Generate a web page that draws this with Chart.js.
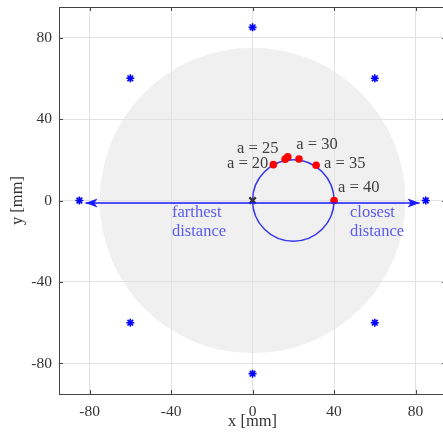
<!DOCTYPE html>
<html>
<head>
<meta charset="utf-8">
<script src="https://cdn.jsdelivr.net/npm/chart.js@4"></script>
<style>
  html, body { margin: 0; padding: 0; background: #fff; overflow: hidden; }
</style>
</head>
<body>
<canvas id="chart" width="453" height="439"></canvas>
<script>
// tick labels
const xTicks = [-80, -40, 0, 40, 80];
const yTicks = [-80, -40, 0, 40, 80];

// sensors (blue stars)
const sensorX = [0, 60, 85, 60, 0, -60, -85, -60];
const sensorY = [85, 60, 0, -60, -85, -60, 0, 60];

// origin (black x)
const originX = [0];
const originY = [0];

// red points on the path circle, with labels
const pointX = [10.2, 16, 17.3, 22.8, 31.2, 40];
const pointY = [17.6, 20.3, 21.4, 20.4, 17.3, 0];
const pointLabels = ['a = 20', '', 'a = 25', 'a = 30', 'a = 35', 'a = 40'];

// arrows: farthest (left) and closest (right)
const arrowX = [-82, 82];
const arrowY = [-1.2, -1.2];

// circles
const pathCenter = [20, 0];
const pathRadius = 20;
const regionRadius = 75;

const serif = '"Liberation Serif", "DejaVu Serif", serif';

// label placement (pixel offsets + alignment) per label index
const labelStyle = [
  { dx: -5, dy: -1, align: 'right' },
  null,
  { dx: -30, dy: -8, align: 'center' },
  { dx: 18, dy: -14, align: 'center' },
  { dx: 8, dy: -2, align: 'left' },
  { dx: 4, dy: -13, align: 'left' }
];

const drawingPlugin = {
  id: 'drawing',
  beforeDraw(chart) {
    const ctx = chart.ctx, xs = chart.scales.x, ys = chart.scales.y;
    const cx = xs.getPixelForValue(0), cy = ys.getPixelForValue(0);
    const r = xs.getPixelForValue(regionRadius) - cx;
    ctx.save();
    ctx.fillStyle = '#f0f0f0';
    ctx.beginPath();
    ctx.arc(cx, cy, r, 0, Math.PI * 2);
    ctx.fill();
    ctx.restore();
  },
  beforeDatasetsDraw(chart) {
    const ctx = chart.ctx, xs = chart.scales.x, ys = chart.scales.y;
    const cx = xs.getPixelForValue(pathCenter[0]), cy = ys.getPixelForValue(pathCenter[1]);
    const r = xs.getPixelForValue(pathCenter[0] + pathRadius) - cx;
    ctx.save();
    ctx.strokeStyle = '#3535ee';
    ctx.lineWidth = 1.5;
    ctx.beginPath();
    ctx.arc(cx, cy, r, 0, Math.PI * 2);
    ctx.stroke();

    // arrowheads
    ctx.fillStyle = '#1a1aff';
    const ay = ys.getPixelForValue(arrowY[0]);
    arrowX.forEach((v, i) => {
      const px = xs.getPixelForValue(v);
      const dir = v < 0 ? -1 : 1;
      ctx.beginPath();
      ctx.moveTo(px, ay);
      ctx.lineTo(px - dir * 12, ay - 4.5);
      ctx.lineTo(px - dir * 9, ay);
      ctx.lineTo(px - dir * 12, ay + 4.5);
      ctx.closePath();
      ctx.fill();
    });
    ctx.restore();
  },
  afterDatasetsDraw(chart) {
    const ctx = chart.ctx, xs = chart.scales.x, ys = chart.scales.y;
    ctx.save();
    ctx.font = '16.5px ' + serif;
    ctx.fillStyle = '#404040';
    ctx.textBaseline = 'middle';
    pointLabels.forEach((t, i) => {
      if (!t) return;
      const s = labelStyle[i];
      ctx.textAlign = s.align;
      ctx.fillText(t, xs.getPixelForValue(pointX[i]) + s.dx, ys.getPixelForValue(pointY[i]) + s.dy);
    });
    ctx.fillStyle = '#5a5af0';
    ctx.textAlign = 'left';
    ctx.fillText('farthest', 172, 213);
    ctx.fillText('distance', 172, 232);
    ctx.fillText('closest', 350, 213);
    ctx.fillText('distance', 350, 232);
    ctx.restore();
  },
  afterDraw(chart) {
    const ctx = chart.ctx, a = chart.chartArea, xs = chart.scales.x, ys = chart.scales.y;
    ctx.save();
    ctx.strokeStyle = '#444';
    ctx.lineWidth = 1;
    ctx.strokeRect(Math.round(a.left) + 0.5, Math.round(a.top) + 0.5,
      Math.round(a.right - a.left), Math.round(a.bottom - a.top));
    ctx.beginPath();
    xTicks.forEach(v => {
      const px = Math.round(xs.getPixelForValue(v)) + 0.5;
      ctx.moveTo(px, a.bottom); ctx.lineTo(px, a.bottom - 4);
      ctx.moveTo(px, a.top); ctx.lineTo(px, a.top + 4);
    });
    yTicks.forEach(v => {
      const py = Math.round(ys.getPixelForValue(v)) + 0.5;
      ctx.moveTo(a.left, py); ctx.lineTo(a.left + 4, py);
      ctx.moveTo(a.right, py); ctx.lineTo(a.right - 4, py);
    });
    ctx.stroke();
    ctx.restore();
  }
};

new Chart(document.getElementById('chart'), {
  type: 'scatter',
  data: {
    datasets: [
      {
        type: 'line',
        data: arrowX.map((v, i) => ({ x: v, y: arrowY[i] })),
        borderColor: '#1a1aff',
        borderWidth: 1.5,
        pointRadius: 0,
        fill: false
      },
      {
        data: sensorX.map((v, i) => ({ x: v, y: sensorY[i] })),
        pointStyle: 'star',
        pointRadius: 4,
        borderColor: '#0000ff',
        backgroundColor: '#0000ff',
        borderWidth: 1.6
      },
      {
        data: originX.map((v, i) => ({ x: v, y: originY[i] })),
        pointStyle: 'crossRot',
        pointRadius: 4.5,
        borderColor: '#333',
        borderWidth: 2.4
      },
      {
        data: pointX.map((v, i) => ({ x: v, y: pointY[i] })),
        pointStyle: 'circle',
        pointRadius: 3.8,
        borderWidth: 0,
        backgroundColor: '#ff0000'
      }
    ]
  },
  options: {
    responsive: false,
    animation: false,
    layout: { padding: { top: 7, right: 1, left: 8, bottom: 7 } },
    plugins: { legend: { display: false }, tooltip: { enabled: false } },
    scales: {
      x: {
        type: 'linear', min: -95, max: 95,
        afterBuildTicks: s => { s.ticks = xTicks.map(v => ({ value: v })); },
        afterFit: s => { s.height = 38; s.paddingLeft = 0; s.paddingRight = 0; },
        grid: { color: '#e2e2e2', drawTicks: false },
        border: { display: false },
        ticks: { color: '#333', font: { family: serif, size: 15.5 }, padding: 9 },
        title: { display: true, text: 'x [mm]', color: '#333', font: { family: serif, size: 16.5 }, padding: 0 }
      },
      y: {
        type: 'linear', min: -95, max: 95,
        afterBuildTicks: s => { s.ticks = yTicks.map(v => ({ value: v })); },
        afterFit: s => { s.width = 51; s.paddingTop = 0; s.paddingBottom = 0; },
        grid: { color: '#e2e2e2', drawTicks: false },
        border: { display: false },
        ticks: { color: '#333', font: { family: serif, size: 15.5 }, padding: 7 },
        title: { display: true, text: 'y [mm]', color: '#333', font: { family: serif, size: 16.5 }, padding: 0 }
      }
    }
  },
  plugins: [drawingPlugin]
});
</script>
</body>
</html>
